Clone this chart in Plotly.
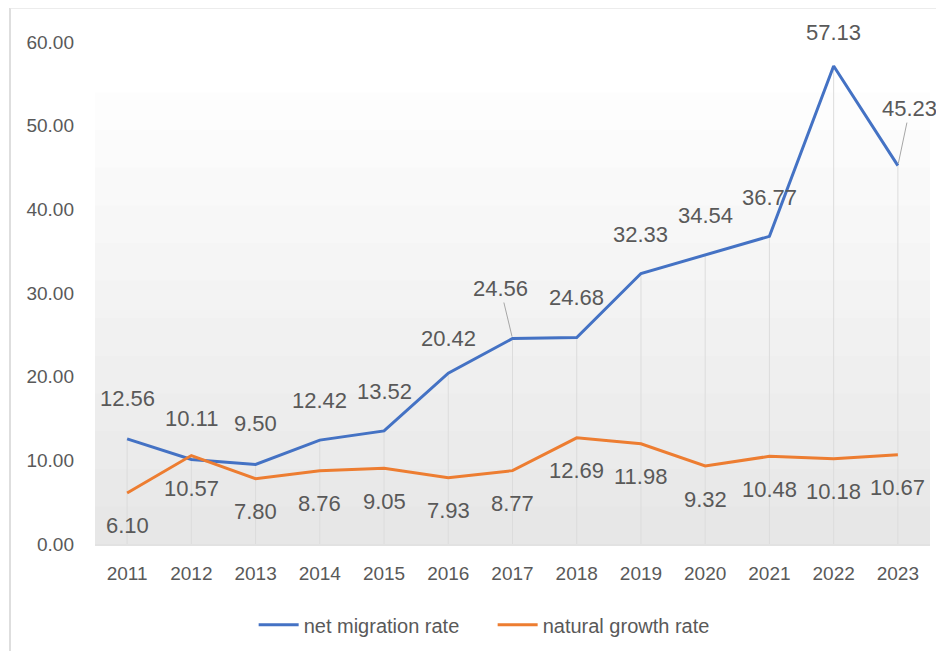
import plotly.graph_objects as go

years = ["2011", "2012", "2013", "2014", "2015", "2016", "2017",
         "2018", "2019", "2020", "2021", "2022", "2023"]
net_migration = [12.56, 10.11, 9.50, 12.42, 13.52, 20.42, 24.56,
                 24.68, 32.33, 34.54, 36.77, 57.13, 45.23]
natural_growth = [6.10, 10.57, 7.80, 8.76, 9.05, 7.93, 8.77,
                  12.69, 11.98, 9.32, 10.48, 10.18, 10.67]
y_ticks = [0, 10, 20, 30, 40, 50, 60]

BLUE = "#4472C4"
ORANGE = "#ED7D31"
TXT = "#595959"
FONT = "Liberation Sans"

# label placement (pixels, relative to point)
blue_dx = [0, 0, 0, 0, 0, 0, -12, 0, 0, 0, 0, 0, 12]
blue_dy = [-40, -41, -41, -40, -39, -35, -50, -40, -39, -40, -39, -34, -57]
blue_leader = [False] * 6 + [True] + [False] * 5 + [True]
orange_dy = 33

fig = go.Figure()

# vertical drop lines
for yr, a, b in zip(years, net_migration, natural_growth):
    fig.add_trace(go.Scatter(x=[yr, yr], y=[0, max(a, b)], mode="lines",
                             line=dict(color="#dcdcdc", width=1),
                             showlegend=False, hoverinfo="skip"))

fig.add_trace(go.Scatter(x=years, y=net_migration, mode="lines",
                         name="net migration rate",
                         line=dict(color=BLUE, width=3)))
fig.add_trace(go.Scatter(x=years, y=natural_growth, mode="lines",
                         name="natural growth rate",
                         line=dict(color=ORANGE, width=3)))

annotations = []
for i, v in enumerate(net_migration):
    if blue_leader[i]:
        annotations.append(dict(x=i, y=v, text=f"{v:.2f}", showarrow=True,
                                ax=blue_dx[i], ay=blue_dy[i], arrowhead=0,
                                arrowwidth=1, arrowcolor="#a6a6a6", standoff=2,
                                font=dict(family=FONT, size=22, color=TXT)))
    else:
        annotations.append(dict(x=i, y=v, text=f"{v:.2f}", showarrow=False,
                                xshift=blue_dx[i], yshift=-blue_dy[i],
                                font=dict(family=FONT, size=22, color=TXT)))
for i, v in enumerate(natural_growth):
    annotations.append(dict(x=i, y=v, text=f"{v:.2f}", showarrow=False,
                            yshift=-orange_dy,
                            font=dict(family=FONT, size=22, color=TXT)))

shapes = []
# soft gradient background in plot area
for k in range(1, 13):
    shapes.append(dict(type="rect", xref="paper", yref="paper", x0=0, x1=1,
                       y0=0, y1=k * 0.075, line=dict(width=0),
                       fillcolor="rgba(0,0,0,0.006)", layer="below"))
# outer frame lines
shapes.append(dict(type="line", xref="paper", yref="paper", x0=-0.1018, x1=-0.1018,
                   y0=-0.24, y1=1.068, line=dict(color="#dedede", width=2)))
shapes.append(dict(type="line", xref="paper", yref="paper", x0=-0.1018, x1=1.01,
                   y0=1.068, y1=1.068, line=dict(color="#e6e6e6", width=2)))

fig.update_layout(
    width=928, height=643,
    margin=dict(l=87, r=6, t=34, b=107),
    paper_bgcolor="white", plot_bgcolor="white",
    font=dict(family=FONT, color=TXT),
    showlegend=True,
    legend=dict(orientation="h", x=0.19, xanchor="left", y=-0.161,
                yanchor="middle", font=dict(size=20, color=TXT),
                itemwidth=40, entrywidth=184, entrywidthmode="pixels",
                bgcolor="rgba(0,0,0,0)"),
    annotations=annotations,
    shapes=shapes,
)
fig.update_xaxes(type="category", range=[-0.5, len(years) - 0.5],
                 showgrid=False, zeroline=False,
                 showline=True, linecolor="#e2e2e2", linewidth=2,
                 ticks="", tickfont=dict(size=19, color=TXT),
                 ticklabelstandoff=11)
fig.update_yaxes(range=[0, 60], tickvals=y_ticks,
                 ticktext=[f"{t:.2f}" for t in y_ticks],
                 showgrid=False, zeroline=False, showline=False,
                 ticks="", tickfont=dict(size=19, color=TXT),
                 ticklabelstandoff=20)

fig.write_html("out.html")
